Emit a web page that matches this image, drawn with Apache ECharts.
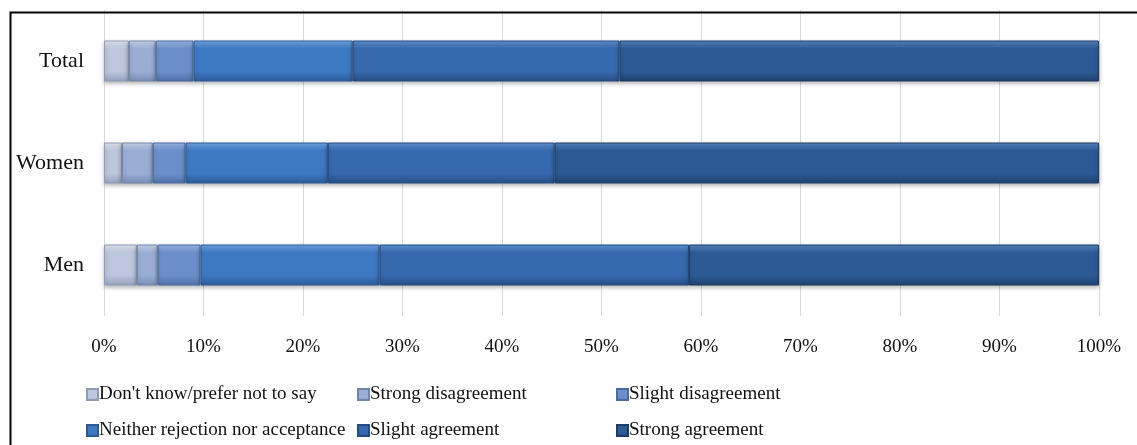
<!DOCTYPE html>
<html>
<head>
<meta charset="utf-8">
<script src="https://cdn.jsdelivr.net/npm/echarts@6/dist/echarts.min.js"></script>
<style>
  html, body { margin: 0; padding: 0; background: #fff; }
  #chart { width: 1137px; height: 445px; }
</style>
</head>
<body>
<div id="chart"></div>
<script>
// Groups, bottom to top
const groups = ['Men', 'Women', 'Total'];

// Answer categories (stack order, left to right)
const answers = [
  "Don't know/prefer not to say",
  'Strong disagreement',
  'Slight disagreement',
  'Neither rejection nor acceptance',
  'Slight agreement',
  'Strong agreement'
];

// Shares in percent, per answer, in the order of groups (Men, Women, Total)
const dontKnow       = [3.3, 1.8, 2.5];
const strongDisagree = [2.1, 3.1, 2.7];
const slightDisagree = [4.3, 3.3, 3.8];
const neither        = [18.0, 14.3, 16.0];
const slightAgree    = [31.1, 22.8, 26.8];
const strongAgree    = [41.2, 54.7, 48.2];

const xTicks = [0, 10, 20, 30, 40, 50, 60, 70, 80, 90, 100];

const seriesValues = [dontKnow, strongDisagree, slightDisagree, neither, slightAgree, strongAgree];

// top / middle / bottom shades for each answer's bevelled fill
const shades = [
  ['#e6ebf4', '#bcc6dc', '#96a3bf'],
  ['#ccd8ef', '#9aaed4', '#7a8fb8'],
  ['#9dbcea', '#6c8fcb', '#4f70a8'],
  ['#74a8ea', '#3d79c3', '#2c5c9c'],
  ['#6496d8', '#3669ae', '#284f88'],
  ['#5a88c6', '#2c5a94', '#1f426f']
];
const edges = ['#8f9cb5', '#7285aa', '#4b6aa0', '#2d5a94', '#254c80', '#1d3d66'];

function fill(i) {
  const s = shades[i];
  return new echarts.graphic.LinearGradient(0, 0, 0, 1, [
    { offset: 0, color: s[0] },
    { offset: 0.2, color: s[1] },
    { offset: 0.75, color: s[1] },
    { offset: 1, color: s[2] }
  ]);
}

const chart = echarts.init(document.getElementById('chart'), null, { renderer: 'canvas' });

const serif = '"Liberation Serif", "Times New Roman", serif';

const series = answers.map((name, i) => ({
  name: name,
  type: 'bar',
  stack: 'total',
  barWidth: 41,
  data: seriesValues[i],
  itemStyle: {
    color: fill(i),
    borderColor: edges[i],
    borderWidth: 1,
    shadowColor: 'rgba(0,0,0,0.28)',
    shadowBlur: 4,
    shadowOffsetY: 2
  },
  emphasis: { disabled: true }
}));

// one legend entry per slot: three columns, two rows
const legendLeft = [86, 357, 616];
const legendTop = [385, 421];
const legends = answers.map((name, i) => ({
  left: legendLeft[i % 3],
  top: legendTop[Math.floor(i / 3)],
  itemWidth: 11,
  itemHeight: 11,
  icon: 'rect',
  selectedMode: false,
  padding: 0,
  textStyle: { fontFamily: serif, fontSize: 19, color: '#111', padding: [0, 0, 0, -4] },
  data: [name]
}));

chart.setOption({
  animation: false,
  backgroundColor: '#fff',
  grid: { left: 104, right: 38, top: 10, bottom: 129 },
  xAxis: {
    type: 'value',
    min: 0,
    max: 100,
    interval: 10,
    axisLine: { show: false },
    axisTick: { show: false },
    splitLine: { lineStyle: { color: '#d9d9d9', width: 1 } },
    axisLabel: {
      formatter: v => xTicks.includes(v) ? v + '%' : '',
      fontFamily: serif,
      fontSize: 19,
      color: '#111',
      margin: 22
    }
  },
  yAxis: {
    type: 'category',
    data: groups,
    axisLine: { show: false },
    axisTick: { show: false },
    axisLabel: { fontFamily: serif, fontSize: 22, color: '#111', margin: 20 }
  },
  legend: legends,
  graphic: [{
    type: 'rect',
    left: 8,
    top: 10,
    shape: { width: 1140, height: 450 },
    style: { fill: 'none', stroke: '#000', lineWidth: 2 },
    z: 100
  }],
  series: series
});
</script>
</body>
</html>
